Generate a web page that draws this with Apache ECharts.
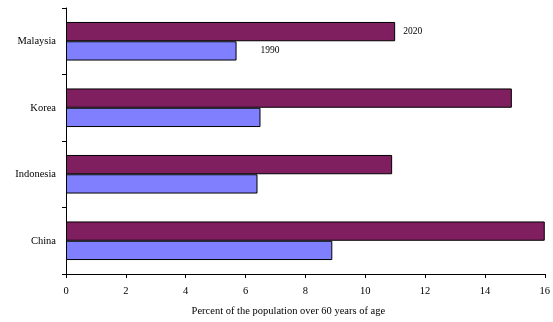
<!DOCTYPE html>
<html>
<head>
<meta charset="utf-8">
<script src="https://cdn.jsdelivr.net/npm/echarts@6/dist/echarts.min.js"></script>
<style>
  html, body {margin: 0; padding: 0; background: #fff;}
  #chart {width: 553px; height: 322px;}
</style>
</head>
<body>
<div id="chart"></div>
<script>
const countries = ['China', 'Indonesia', 'Korea', 'Malaysia']
const pct1990 = [8.9, 6.4, 6.5, 5.7]
const pct2020 = [16.0, 10.9, 14.9, 11.0]
const xTicks = [0, 2, 4, 6, 8, 10, 12, 14, 16]

const font = 'Liberation Serif'
const chart = echarts.init(document.getElementById('chart'))

// only the Malaysia bars carry the series name, like a built-in legend
const tagLast = (vals, name, dist) => vals.map((v, i) => i === vals.length - 1
  ? {value: v, label: {show: true, position: 'right', distance: dist, formatter: name}}
  : v)

chart.setOption({
  animation: false,
  grid: {left: 66, right: 7, top: 8, bottom: 44},
  xAxis: {
    type: 'value',
    min: 0,
    max: 16,
    interval: 2,
    splitLine: {show: false},
    axisLine: {show: true, lineStyle: {color: '#000'}},
    axisTick: {show: true, length: 4, lineStyle: {color: '#000'}},
    axisLabel: {
      color: '#000', fontFamily: font, fontSize: 10.5, margin: 12,
      formatter: v => xTicks.includes(v) ? String(v) : ''
    },
    name: 'Percent of the population over 60 years of age',
    nameLocation: 'middle',
    nameGap: 32,
    nameTextStyle: {color: '#000', fontFamily: font, fontSize: 10.5, padding: [0, 34, 0, 0]}
  },
  yAxis: {
    type: 'category',
    data: countries,
    axisLine: {show: true, lineStyle: {color: '#000'}},
    axisTick: {show: true, length: 4, lineStyle: {color: '#000'}},
    axisLabel: {color: '#000', fontFamily: font, fontSize: 10.5, margin: 10}
  },
  series: [
    {
      name: '2020',
      type: 'bar',
      data: tagLast(pct2020, '2020', 8),
      barGap: '0%',
      barCategoryGap: '42%',
      itemStyle: {color: '#7f1f5f', borderColor: '#000', borderWidth: 1},
      label: {color: '#000', fontFamily: font, fontSize: 9.5}
    },
    {
      name: '1990',
      type: 'bar',
      data: tagLast(pct1990, '1990', 24),
      barGap: '0%',
      barCategoryGap: '42%',
      itemStyle: {color: '#8080ff', borderColor: '#000', borderWidth: 1},
      label: {color: '#000', fontFamily: font, fontSize: 9.5}
    }
  ]
})
</script>
</body>
</html>
